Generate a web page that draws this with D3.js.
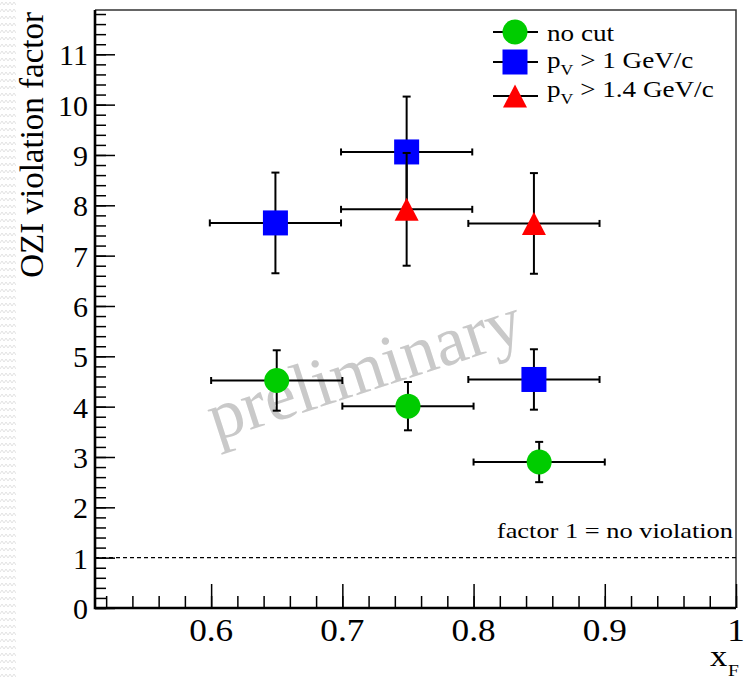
<!DOCTYPE html>
<html><head><meta charset="utf-8">
<script src="https://cdn.jsdelivr.net/npm/d3@7"></script>
<style>body{margin:0;background:#fff}svg{display:block}</style>
</head><body>
<svg id="chart" width="747" height="680"></svg>
<script>
// x_F bins and OZI violation factors for three momentum cuts
const noCutX    = [0.65, 0.75, 0.85];
const noCutY    = [4.52, 4.01, 2.90];
const noCutErrX = [0.05, 0.05, 0.05];
const noCutErrY = [0.60, 0.48, 0.40];

const pv1X    = [0.649, 0.749, 0.846];
const pv1Y    = [7.65, 9.06, 4.54];
const pv1ErrX = [0.05, 0.05, 0.05];
const pv1ErrY = [1.00, 1.10, 0.60];

const pv14X    = [0.749, 0.846];
const pv14Y    = [7.92, 7.64];
const pv14ErrX = [0.05, 0.05];
const pv14ErrY = [1.12, 1.00];

const xTickValues = [0.6, 0.7, 0.8, 0.9, 1.0];
const xTickLabels = ["0.6", "0.7", "0.8", "0.9", "1"];
const yTickValues = [0, 1, 2, 3, 4, 5, 6, 7, 8, 9, 10, 11];
const yTickLabels = ["0", "1", "2", "3", "4", "5", "6", "7", "8", "9", "10", "11"];
const legendLabels = ["no cut", "p_V > 1 GeV/c", "p_V > 1.4 GeV/c"];

const FONT = "'Liberation Serif','Times New Roman',serif";
const svg = d3.select("#chart");
const frame = {left: 95, right: 736, top: 10, bottom: 608};

const x = d3.scaleLinear().domain([0.5115, 1.0]).range([frame.left, frame.right]);
const y = d3.scaleLinear().domain([0, 11.88]).range([frame.bottom, frame.top]);

// textured strip at the left edge of the page
const defs = svg.append("defs");
const pat = defs.append("pattern").attr("id", "zig").attr("patternUnits", "userSpaceOnUse")
  .attr("width", 8).attr("height", 7);
pat.append("path").attr("d", "M0,5 L2,2 L4,5 L6,2 L8,5").attr("fill", "none")
  .attr("stroke", "#e2e2e2").attr("stroke-width", 1);
svg.append("rect").attr("x", 0).attr("y", 0).attr("width", 16).attr("height", 680).attr("fill", "url(#zig)");

// horizontally stretched text helper
function stext(g, px, py, str, size, sx, anchor) {
  return g.append("text")
    .attr("transform", `translate(${px},${py}) scale(${sx},1)`)
    .attr("font-family", FONT).attr("font-size", size)
    .attr("text-anchor", anchor || "start").attr("fill", "#000").text(str);
}

// watermark
svg.append("text").attr("transform", "translate(216,441) rotate(-18)")
  .attr("font-family", FONT).attr("font-size", 70).attr("fill", "#c9c9c9")
  .text("preliminary");

// frame (top/right)
svg.append("path")
  .attr("d", `M${frame.left},${frame.top}H${frame.right}V${frame.bottom}`)
  .attr("fill", "none").attr("stroke", "#333").attr("stroke-width", 1.5);

// reference line: factor 1
svg.append("line").attr("x1", frame.left).attr("x2", frame.right)
  .attr("y1", y(1)).attr("y2", y(1))
  .attr("stroke", "#000").attr("stroke-width", 1.3).attr("stroke-dasharray", "4,3");
stext(svg, 733, 538, "factor 1 = no violation", 22, 1.2, "end");

// axes: inward ticks
const xMinor = d3.range(0.52, 1.0001, 0.02);
const yMinor = d3.range(0, 11.81, 0.2);

const gx = svg.append("g").attr("transform", `translate(0,${frame.bottom})`);
gx.call(d3.axisBottom(x).tickValues(xMinor).tickSize(-12).tickFormat(""));
gx.append("g").call(d3.axisBottom(x).tickValues(xTickValues).tickSize(-24).tickFormat(""));
gx.selectAll(".domain").remove();
gx.selectAll("line").attr("stroke", "#000").attr("stroke-width", 1.5);

const gy = svg.append("g").attr("transform", `translate(${frame.left},0)`);
gy.call(d3.axisLeft(y).tickValues(yMinor).tickSize(-11).tickFormat(""));
gy.append("g").call(d3.axisLeft(y).tickValues(yTickValues).tickSize(-20).tickFormat(""));
gy.selectAll(".domain").remove();
gy.selectAll("line").attr("stroke", "#000").attr("stroke-width", 1.5);

svg.append("path")
  .attr("d", `M${frame.left},${frame.top}V${frame.bottom}H${frame.right}`)
  .attr("fill", "none").attr("stroke", "#000").attr("stroke-width", 2.6);

xTickValues.forEach((v, i) => stext(svg, x(v), 641, xTickLabels[i], 32, 1.1, "middle"));
yTickValues.forEach((v, i) => stext(svg, 88, y(v) + 11, yTickLabels[i], 30, 1, "end"));

// axis titles
svg.append("text").attr("transform", "translate(43,12) rotate(-90)")
  .attr("font-family", FONT).attr("font-size", 33).attr("text-anchor", "end")
  .text("OZI violation factor");
stext(svg, 710, 666, "x", 30, 1.15, "start");
stext(svg, 728, 676, "F", 17, 1.15, "start");

// error bars and markers
function drawSeries(xs, ys, exs, eys, marker) {
  const g = svg.append("g");
  const bars = g.append("g").attr("stroke", "#000").attr("stroke-width", 2);
  xs.forEach((xv, i) => {
    const cx = x(xv), cy = y(ys[i]);
    const x0 = x(xv - exs[i]), x1 = x(xv + exs[i]);
    const y0 = y(ys[i] - eys[i]), y1 = y(ys[i] + eys[i]);
    bars.append("line").attr("x1", x0).attr("x2", x1).attr("y1", cy).attr("y2", cy);
    bars.append("line").attr("x1", cx).attr("x2", cx).attr("y1", y0).attr("y2", y1);
    bars.append("line").attr("x1", x0).attr("x2", x0).attr("y1", cy - 3.5).attr("y2", cy + 3.5);
    bars.append("line").attr("x1", x1).attr("x2", x1).attr("y1", cy - 3.5).attr("y2", cy + 3.5);
    bars.append("line").attr("x1", cx - 4).attr("x2", cx + 4).attr("y1", y0).attr("y2", y0);
    bars.append("line").attr("x1", cx - 4).attr("x2", cx + 4).attr("y1", y1).attr("y2", y1);
  });
  xs.forEach((xv, i) => marker(g, x(xv), y(ys[i])));
}
const circle = (g, cx, cy) => g.append("circle").attr("cx", cx).attr("cy", cy).attr("r", 12.5).attr("fill", "#00cc00");
const square = (g, cx, cy) => g.append("rect").attr("x", cx - 12.5).attr("y", cy - 12.5).attr("width", 25).attr("height", 25).attr("fill", "#0000ff");
const triangle = (g, cx, cy) => g.append("path").attr("d", `M${cx},${cy - 11.5}L${cx + 12},${cy + 11.5}L${cx - 12},${cy + 11.5}Z`).attr("fill", "#ff0000");

drawSeries(noCutX, noCutY, noCutErrX, noCutErrY, circle);
drawSeries(pv1X, pv1Y, pv1ErrX, pv1ErrY, square);
drawSeries(pv14X, pv14Y, pv14ErrX, pv14ErrY, triangle);

// legend
const legY = [32, 62, 96];
const textY = [41, 68, 97];
const markers = [circle, square, triangle];
const lg = svg.append("g");
legendLabels.forEach((lab, i) => {
  lg.append("line").attr("x1", 493).attr("x2", 538).attr("y1", legY[i]).attr("y2", legY[i])
    .attr("stroke", "#000").attr("stroke-width", 1.8);
  markers[i](lg, 515, legY[i]);
  const t = lg.append("text")
    .attr("transform", `translate(547,${textY[i]}) scale(1.18,1)`)
    .attr("font-family", FONT).attr("font-size", 23);
  const parts = lab.split("_V");
  if (parts.length === 1) {
    t.text(lab);
  } else {
    t.append("tspan").text(parts[0]);
    t.append("tspan").attr("font-size", 15).attr("dy", 7).text("V");
    t.append("tspan").attr("dy", -7).text(parts[1]);
  }
});
</script>
</body></html>
